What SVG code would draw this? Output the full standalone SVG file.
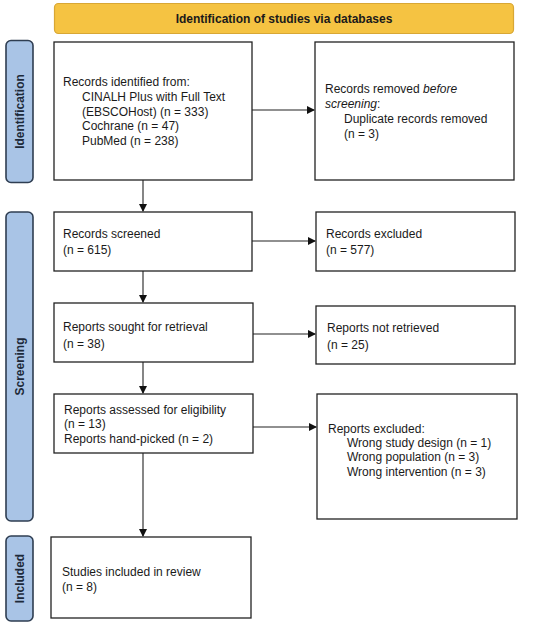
<svg xmlns="http://www.w3.org/2000/svg" width="550" height="629" viewBox="0 0 550 629">
<style>
text{font-family:"Liberation Sans",Arial,Helvetica,sans-serif;font-size:12px;fill:#1a1a1a}
.box{fill:#fff;stroke:#222;stroke-width:1.3}
.side{fill:#a9c4e6;stroke:#2f3e52;stroke-width:1.6}
.sidet{font-weight:bold;font-size:12px;fill:#1d2a3a}
.banner{fill:#f5c342;stroke:#d8a735;stroke-width:1.2}
.bt{font-weight:bold;font-size:12px}
.conn{stroke:#222;stroke-width:1.1;fill:none}
</style>
<defs>
<marker id="ah" markerWidth="8" markerHeight="8" refX="7" refY="4" orient="auto" markerUnits="userSpaceOnUse">
<path d="M0,0 L8,4 L0,8 z" fill="#111"/>
</marker>
</defs>
<g id="banner">
<rect class="banner" x="54.5" y="3.5" width="459" height="30" rx="4"/>
<text class="bt" x="284" y="22.5" text-anchor="middle">Identification of studies via databases</text>
</g>
<g id="side-identification">
<rect class="side" x="6" y="40.5" width="27" height="142" rx="5"/>
<text class="sidet" transform="translate(24,111.5) rotate(-90)" text-anchor="middle">Identification</text>
</g>
<g id="side-screening">
<rect class="side" x="6" y="212" width="27" height="309" rx="5"/>
<text class="sidet" transform="translate(24,366.5) rotate(-90)" text-anchor="middle">Screening</text>
</g>
<g id="side-included">
<rect class="side" x="6" y="536" width="27" height="85" rx="5"/>
<text class="sidet" transform="translate(24,578.5) rotate(-90)" text-anchor="middle">Included</text>
</g>
<g id="records-identified">
<rect class="box" x="54" y="42" width="198" height="138"/>
<text x="63" y="86">Records identified from:</text>
<text x="82" y="101">CINALH Plus with Full Text</text>
<text x="82" y="115.5">(EBSCOHost) (n = 333)</text>
<text x="82" y="130">Cochrane (n = 47)</text>
<text x="82" y="145">PubMed (n = 238)</text>
</g>
<g id="records-removed">
<rect class="box" x="315" y="42" width="199" height="138"/>
<text x="325" y="93">Records removed <tspan font-style="italic">before</tspan></text>
<text x="325" y="108"><tspan font-style="italic">screening</tspan>:</text>
<text x="344" y="122.5">Duplicate records removed</text>
<text x="344" y="138">(n = 3)</text>
</g>
<g id="records-screened">
<rect class="box" x="54" y="212" width="198" height="59"/>
<text x="63" y="238">Records screened</text>
<text x="63" y="254">(n = 615)</text>
</g>
<g id="records-excluded">
<rect class="box" x="316" y="212" width="199" height="59"/>
<text x="326" y="238">Records excluded</text>
<text x="326" y="254">(n = 577)</text>
</g>
<g id="reports-sought">
<rect class="box" x="54" y="303" width="199" height="59"/>
<text x="63" y="331">Reports sought for retrieval</text>
<text x="63" y="348">(n = 38)</text>
</g>
<g id="reports-not-retrieved">
<rect class="box" x="316" y="306" width="199" height="58"/>
<text x="327" y="332">Reports not retrieved</text>
<text x="327" y="349">(n = 25)</text>
</g>
<g id="reports-assessed">
<rect class="box" x="54" y="394" width="199" height="59"/>
<text x="64" y="414">Reports assessed for eligibility</text>
<text x="64" y="428">(n = 13)</text>
<text x="64" y="443">Reports hand-picked (n = 2)</text>
</g>
<g id="reports-excluded">
<rect class="box" x="317" y="394" width="200" height="125"/>
<text x="328" y="433">Reports excluded:</text>
<text x="347" y="447">Wrong study design (n = 1)</text>
<text x="347" y="461">Wrong population (n = 3)</text>
<text x="347" y="476">Wrong intervention (n = 3)</text>
</g>
<g id="studies-included">
<rect class="box" x="51" y="537" width="200" height="81"/>
<text x="62" y="576">Studies included in review</text>
<text x="62" y="591">(n = 8)</text>
</g>
<g id="connectors">
<line class="conn" x1="252" y1="110" x2="314" y2="110" marker-end="url(#ah)"/>
<line class="conn" x1="143" y1="180" x2="143" y2="211" marker-end="url(#ah)"/>
<line class="conn" x1="252" y1="241" x2="315" y2="241" marker-end="url(#ah)"/>
<line class="conn" x1="143" y1="271" x2="143" y2="302" marker-end="url(#ah)"/>
<line class="conn" x1="253" y1="334" x2="315" y2="334" marker-end="url(#ah)"/>
<line class="conn" x1="143" y1="362" x2="143" y2="393" marker-end="url(#ah)"/>
<line class="conn" x1="253" y1="427" x2="316" y2="427" marker-end="url(#ah)"/>
<line class="conn" x1="143" y1="453" x2="143" y2="536" marker-end="url(#ah)"/>
</g>
</svg>
